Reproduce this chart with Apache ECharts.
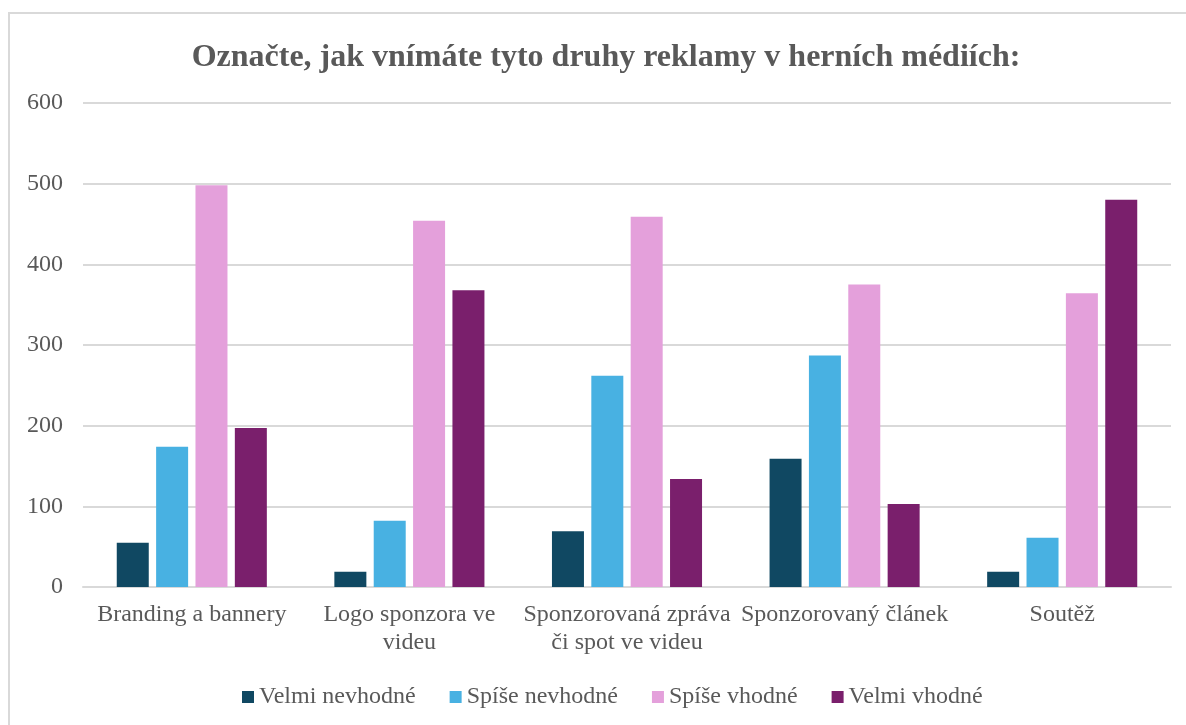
<!DOCTYPE html>
<html lang="cs">
<head>
<meta charset="utf-8">
<title>Označte, jak vnímáte tyto druhy reklamy v herních médiích</title>
<script src="https://cdn.jsdelivr.net/npm/echarts@6/dist/echarts.min.js"></script>
<style>
  html, body { margin: 0; padding: 0; background: #ffffff; }
  #chart { width: 1186px; height: 725px; }
</style>
</head>
<body>
<div id="chart"></div>
<script>
// Categories of in-game media advertising
const categories = [
  'Branding a bannery',
  'Logo sponzora ve\nvideu',
  'Sponzorovaná zpráva\nči spot ve videu',
  'Sponzorovaný článek',
  'Soutěž'
];

// Number of respondents per answer
const velmiNevhodne = [55, 19, 69, 159, 19];
const spiseNevhodne = [174, 82, 262, 287, 61];
const spiseVhodne = [498, 454, 459, 375, 364];
const velmiVhodne = [197, 368, 134, 103, 480];

const seriesNames = ['Velmi nevhodné', 'Spíše nevhodné', 'Spíše vhodné', 'Velmi vhodné'];
const seriesColors = ['#104862', '#48B1E2', '#E4A0DB', '#7A1F6C'];
const seriesValues = [velmiNevhodne, spiseNevhodne, spiseVhodne, velmiVhodne];

const yTicks = { min: 0, max: 600, interval: 100 };

const textColor = '#595959';
const gridColor = '#D9D9D9';
const serif = '"Liberation Serif", "Times New Roman", serif';

const chart = echarts.init(document.getElementById('chart'), null, { renderer: 'canvas' });

chart.setOption({
  backgroundColor: '#ffffff',
  animation: false,
  textStyle: { fontFamily: serif, color: textColor },
  graphic: [{
    type: 'rect',
    shape: { x: 9, y: 13, width: 1300, height: 800 },
    style: { fill: 'none', stroke: gridColor, lineWidth: 2 },
    silent: true,
    z: -1
  }],
  title: {
    text: 'Označte, jak vnímáte tyto druhy reklamy v herních médiích:',
    left: 601,
    textAlign: 'center',
    top: 37,
    textStyle: {
      fontFamily: serif,
      fontSize: 32,
      fontWeight: 'bold',
      color: textColor
    }
  },
  legend: {
    data: seriesNames,
    left: 237,
    bottom: 11,
    icon: 'rect',
    itemWidth: 12,
    itemHeight: 12,
    itemGap: 34,
    textStyle: { fontFamily: serif, fontSize: 24, color: textColor }
  },
  grid: {
    left: 83,
    right: 15,
    top: 103,
    bottom: 138,
    containLabel: false
  },
  xAxis: {
    type: 'category',
    data: categories,
    axisLine: { show: true, lineStyle: { color: gridColor, width: 2 } },
    axisTick: { show: false },
    axisLabel: {
      interval: 0,
      margin: 14,
      fontFamily: serif,
      fontSize: 24,
      lineHeight: 28,
      color: textColor
    }
  },
  yAxis: {
    type: 'value',
    min: yTicks.min,
    max: yTicks.max,
    interval: yTicks.interval,
    axisLine: { show: false },
    axisTick: { show: false },
    splitLine: { lineStyle: { color: gridColor, width: 2 } },
    axisLabel: {
      margin: 20,
      fontFamily: serif,
      fontSize: 24,
      color: textColor
    }
  },
  series: seriesNames.map((name, i) => ({
    name: name,
    type: 'bar',
    data: seriesValues[i],
    barWidth: 32,
    barGap: '23%',
    itemStyle: { color: seriesColors[i] }
  }))
});
</script>
</body>
</html>
